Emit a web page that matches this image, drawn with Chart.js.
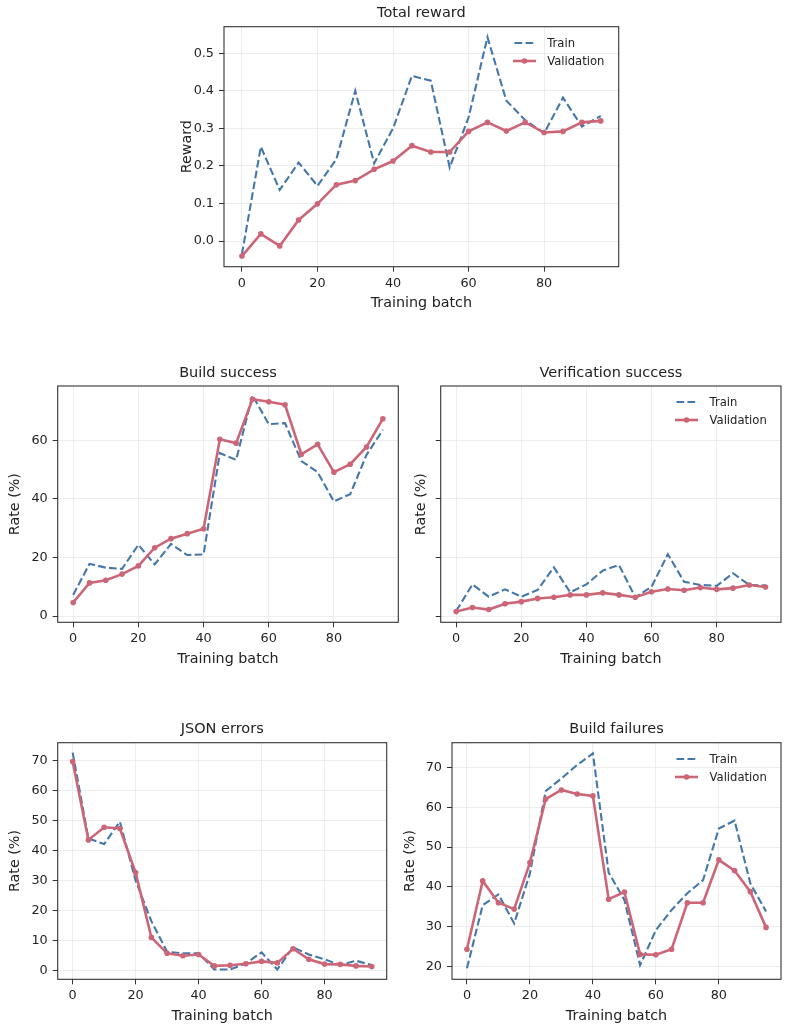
<!DOCTYPE html>
<html>
<head>
<meta charset="utf-8">
<title>Training curves</title>
<script src="https://cdn.jsdelivr.net/npm/chart.js@4.4.1/dist/chart.umd.min.js"></script>
<style>
  html, body { margin: 0; padding: 0; background: #fff; }
  #page { position: relative; width: 789px; height: 1032px; overflow: hidden; font-family: "DejaVu Sans", sans-serif; }
  #page canvas { position: absolute; left: 0; top: 0; }
  .legend { position: absolute; font-size: 11.6px; color: #222; }
  .legend-row { display: flex; align-items: center; height: 18.3px; white-space: nowrap; }
  .legend-row svg { margin-right: 11.5px; flex: none; }
</style>
</head>
<body>
<div id="page"></div>
<script>
/* ======================================================
   Data
=========================================================*/
const batches = [0, 5, 10, 15, 20, 25, 30, 35, 40, 45, 50, 55, 60, 65, 70, 75, 80, 85, 90, 95];
const xTicks = [0, 20, 40, 60, 80];

const rewardTrain = [-0.035, 0.251, 0.136, 0.209, 0.147, 0.218, 0.400, 0.207, 0.300, 0.440, 0.427, 0.196, 0.329, 0.543, 0.374, 0.322, 0.287, 0.382, 0.305, 0.333];
const rewardVal   = [-0.040, 0.019, -0.013, 0.056, 0.099, 0.150, 0.161, 0.191, 0.213, 0.254, 0.237, 0.237, 0.292, 0.316, 0.293, 0.316, 0.289, 0.292, 0.316, 0.320];
const rewardTicks = [0.0, 0.1, 0.2, 0.3, 0.4, 0.5];

const buildTrain = [7.2, 17.8, 16.5, 16.1, 24.3, 17.6, 24.6, 20.8, 21.0, 55.6, 53.3, 75.3, 65.5, 65.8, 52.9, 49.1, 39.1, 41.6, 55.0, 63.5];
const buildVal   = [4.6, 11.3, 12.2, 14.3, 17.1, 23.3, 26.4, 28.1, 29.8, 60.3, 59.0, 74.0, 73.1, 72.1, 55.2, 58.6, 49.1, 51.8, 57.7, 67.3];

const verifyTrain = [1.7, 10.8, 6.6, 9.1, 6.6, 8.9, 16.6, 8.1, 10.8, 15.5, 17.4, 6.4, 10.0, 21.1, 11.7, 10.6, 10.3, 14.6, 10.6, 10.4];
const verifyVal   = [1.5, 2.9, 2.2, 4.2, 4.9, 6.0, 6.4, 7.2, 7.2, 7.9, 7.2, 6.4, 8.3, 9.2, 8.8, 9.7, 9.1, 9.5, 10.6, 9.9];
const successTicks = [0, 20, 40, 60];

const jsonTrain = [72.7, 44.1, 42.2, 49.7, 30.0, 16.5, 6.3, 5.8, 5.8, 0.4, 0.4, 2.4, 6.1, 0.4, 7.8, 5.4, 3.8, 1.9, 3.3, 1.9];
const jsonVal   = [69.7, 43.6, 47.8, 47.4, 32.7, 11.1, 5.8, 5.0, 5.4, 1.6, 1.8, 2.3, 3.1, 2.6, 7.3, 3.8, 2.2, 2.1, 1.6, 1.4];
const jsonTicks = [0, 10, 20, 30, 40, 50, 60, 70];

const failTrain = [19.5, 35.4, 38.1, 30.8, 43.4, 64.1, 67.3, 70.7, 73.6, 43.6, 36.7, 20.3, 29.1, 34.2, 38.4, 41.7, 54.7, 56.7, 40.9, 33.8];
const failVal   = [24.3, 41.5, 36.0, 34.4, 46.1, 62.1, 64.4, 63.4, 62.9, 36.9, 38.7, 23.0, 22.9, 24.3, 36.0, 36.0, 46.8, 44.1, 38.8, 29.8];
const failTicks = [20, 30, 40, 50, 60, 70];

const seriesNames = ["Train", "Validation"];

/* ======================================================
   Styling / layout
=========================================================*/
const W = 789, H = 1032;
const BLUE = "#4477AA";
const RED = "#CC6677";
const INK = "#222";
const GRID = "#e9e9e9";
const FRAME = "#333";
const TITLE_H = 23.9;   // pad 2 + line 17.4 + pad 4.5
const XAXIS_H = 47.4;   // ticks + labels + axis title

Chart.defaults.font.family = "'DejaVu Sans', sans-serif";
Chart.defaults.color = INK;

const panels = [
  { title: "Total reward", ylabel: "Reward", train: rewardTrain, val: rewardVal, ticks: rewardTicks,
    ymin: -0.0684, ymax: 0.5709, dec: 1, yLabels: true, legend: true,
    box: { l: 224, t: 26.7, r: 618.7, b: 266.7 }, yW: 47.7 },
  { title: "Build success", ylabel: "Rate (%)", train: buildTrain, val: buildVal, ticks: successTicks,
    ymin: -2.15, ymax: 78.5, dec: 0, yLabels: true, legend: false,
    box: { l: 57.7, t: 386, r: 398.3, b: 622.3 }, yW: 53.1 },
  { title: "Verification success", ylabel: "Rate (%)", train: verifyTrain, val: verifyVal, ticks: successTicks,
    ymin: -2.15, ymax: 78.5, dec: 0, yLabels: false, legend: true,
    box: { l: 440.7, t: 386, r: 781, b: 622.3 }, yW: 30.1 },
  { title: "JSON errors", ylabel: "Rate (%)", train: jsonTrain, val: jsonVal, ticks: jsonTicks,
    ymin: -2.87, ymax: 76.0, dec: 0, yLabels: true, legend: false,
    box: { l: 57.7, t: 742.7, r: 386.7, b: 979.3 }, yW: 53.1 },
  { title: "Build failures", ylabel: "Rate (%)", train: failTrain, val: failVal, ticks: failTicks,
    ymin: 16.73, ymax: 76.3, dec: 0, yLabels: true, legend: true,
    box: { l: 452, t: 742.7, r: 781, b: 979.3 }, yW: 52.4 },
];

/* ======================================================
   Plugins: axes frame + html legend
=========================================================*/
const framePlugin = {
  id: "frame",
  afterDatasetsDraw(chart) {
    const { ctx, chartArea: a } = chart;
    ctx.save();
    ctx.strokeStyle = FRAME;
    ctx.lineWidth = 1.1;
    ctx.strokeRect(a.left, a.top, a.right - a.left, a.bottom - a.top);
    ctx.restore();
  },
};

function sampleSvg(ds) {
  // shift the dash pattern so the sample shows two whole dashes
  const dash = ds.borderDash && ds.borderDash.length
    ? `stroke-dasharray="${ds.borderDash.join(" ")}" stroke-dashoffset="-1.5"` : "";
  const dot = ds.pointRadius > 0 ? `<circle cx="11.5" cy="6" r="${ds.pointRadius}" fill="${ds.borderColor}"/>` : "";
  return `<svg width="23" height="12" viewBox="0 0 23 12">
    <line x1="0" y1="6" x2="23" y2="6" stroke="${ds.borderColor}" stroke-width="${ds.borderWidth}" ${dash}/>${dot}</svg>`;
}

const htmlLegendPlugin = {
  id: "htmlLegend",
  afterRender(chart, args, opts) {
    if (!opts.show) return;
    let el = chart._legendEl;
    if (!el) {
      el = document.createElement("div");
      el.className = "legend";
      // legend lists series in plotting order
      const items = chart.data.datasets.slice().sort((a, b) => b.order - a.order);
      el.innerHTML = items
        .map((ds) => `<div class="legend-row">${sampleSvg(ds)}<span>${ds.label}</span></div>`)
        .join("");
      document.getElementById("page").appendChild(el);
      chart._legendEl = el;
    }
    const a = chart.chartArea;
    el.style.left = (a.right - 106) + "px";
    el.style.top = (a.top + 6.8) + "px";
  },
};

/* ======================================================
   Build one panel
=========================================================*/
function drawPanel(p) {
  const canvas = document.createElement("canvas");
  canvas.width = W;
  canvas.height = H;
  document.getElementById("page").appendChild(canvas);

  const b = p.box;
  const toPts = (arr) => batches.map((x, i) => ({ x: x, y: arr[i] }));

  new Chart(canvas, {
    type: "line",
    data: {
      datasets: [
        {
          label: seriesNames[0],
          data: toPts(p.train),
          borderColor: BLUE,
          backgroundColor: BLUE,
          borderWidth: 2.1,
          borderDash: [7.7, 3.3],
          pointRadius: 0,
          tension: 0,
          order: 1,
        },
        {
          label: seriesNames[1],
          data: toPts(p.val),
          borderColor: RED,
          backgroundColor: RED,
          borderWidth: 2.6,
          pointRadius: 2.8,
          pointBorderWidth: 0,
          pointBackgroundColor: RED,
          tension: 0,
          order: 0,
        },
      ],
    },
    options: {
      responsive: false,
      animation: false,
      devicePixelRatio: 1,
      layout: {
        padding: {
          left: b.l - p.yW,
          top: b.t - TITLE_H,
          right: W - b.r,
          bottom: H - b.b - XAXIS_H,
        },
      },
      plugins: {
        legend: { display: false },
        tooltip: { enabled: false },
        title: {
          display: true,
          text: p.title,
          fullSize: false,
          color: INK,
          font: { size: 14.5, weight: "normal" },
          padding: { top: 2, bottom: 4.5 },
        },
        htmlLegend: { show: p.legend },
      },
      scales: {
        x: {
          type: "linear",
          min: -4.75,
          max: 99.75,
          afterBuildTicks: (axis) => { axis.ticks = xTicks.map((v) => ({ value: v })); },
          afterFit: (axis) => { axis.height = XAXIS_H; },
          ticks: { font: { size: 12.8 }, padding: 4, color: INK, maxRotation: 0 },
          grid: { color: GRID, lineWidth: 0.8, tickColor: FRAME, tickLength: 5, tickWidth: 1 },
          border: { display: false },
          title: { display: true, text: "Training batch", color: INK, font: { size: 14.3 }, padding: { top: 0, bottom: 2 } },
        },
        y: {
          type: "linear",
          min: p.ymin,
          max: p.ymax,
          afterBuildTicks: (axis) => { axis.ticks = p.ticks.map((v) => ({ value: v })); },
          afterFit: (axis) => { axis.width = p.yW; },
          ticks: {
            display: p.yLabels,
            font: { size: 12.8 },
            padding: 5,
            color: INK,
            callback: (v) => Number(v).toFixed(p.dec),
          },
          grid: { color: GRID, lineWidth: 0.8, tickColor: FRAME, tickLength: 5, tickWidth: 1 },
          border: { display: false },
          title: { display: true, text: p.ylabel, color: INK, font: { size: 14.3 }, padding: { top: 2, bottom: 0 } },
        },
      },
    },
    plugins: [framePlugin, htmlLegendPlugin],
  });
}

panels.forEach(drawPanel);
</script>
</body>
</html>
